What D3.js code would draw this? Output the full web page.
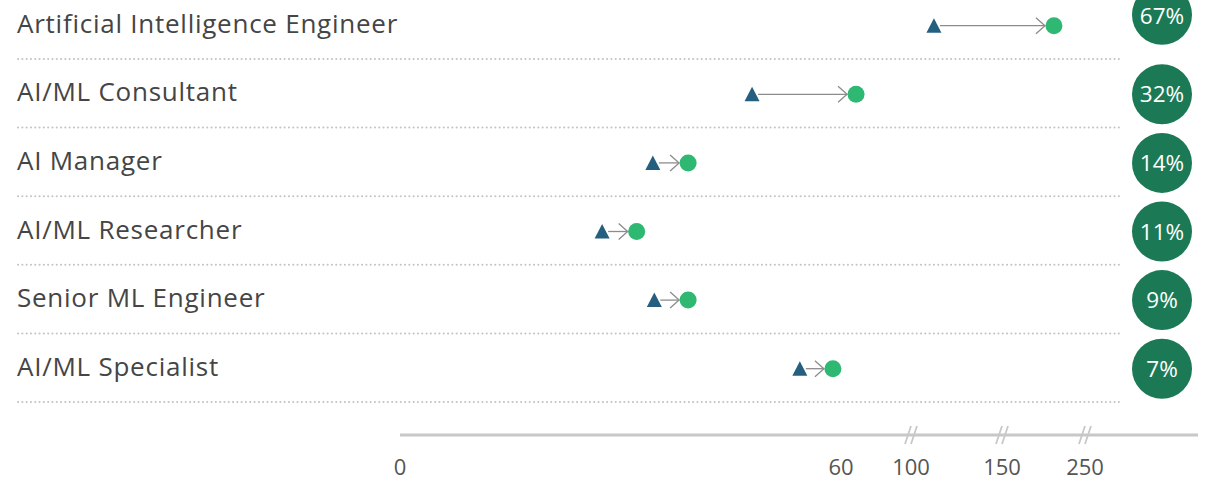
<!DOCTYPE html>
<html>
<head>
<meta charset="utf-8">
<script src="https://cdn.jsdelivr.net/npm/d3@7/dist/d3.min.js"></script>
<style>
  html, body { margin: 0; padding: 0; background: #fff; }
  svg { display: block; }
</style>
</head>
<body>
<svg id="chart" width="1207" height="481"></svg>
<script>
// ---- data ----
const roles = [
  "Artificial Intelligence Engineer",
  "AI/ML Consultant",
  "AI Manager",
  "AI/ML Researcher",
  "Senior ML Engineer",
  "AI/ML Specialist"
];
const startValues = [112.6, 47.9, 34.4, 27.5, 34.6, 54.4];   // triangles
const endValues   = [212.6, 68.6, 39.2, 32.2, 39.2, 58.9];   // circles
const growthLabels = ["67%", "32%", "14%", "11%", "9%", "7%"];
const tickValues = [0, 60, 100, 150, 250];
const breakValues = [100, 150, 250];

// ---- layout ----
const FONT = "'Open Sans', 'Noto Sans', sans-serif";
const svg = d3.select("#chart");

// broken (piecewise) x scale
const x = d3.scaleLinear()
  .domain(tickValues)
  .range([400, 841, 911, 1002, 1085]);

const y = d3.scaleBand()
  .domain(roles)
  .range([-9.6, 402])
  .paddingInner(0)
  .paddingOuter(0);

const rows = roles.map((r, i) => ({
  role: r, start: startValues[i], end: endValues[i], growth: growthLabels[i], i
}));

// separators
svg.append("g").selectAll("line")
  .data(rows).join("line")
  .attr("x1", 18).attr("x2", 1119)
  .attr("y1", d => y(d.role) + y.bandwidth())
  .attr("y2", d => y(d.role) + y.bandwidth())
  .attr("stroke", "#c4c4c4")
  .attr("stroke-width", 2)
  .attr("stroke-linecap", "round")
  .attr("stroke-dasharray", "0.1 4.2");

// row labels
svg.append("g").selectAll("text")
  .data(rows).join("text")
  .attr("x", 17)
  .attr("y", d => y(d.role) + y.bandwidth() / 2 + 8)
  .attr("font-family", FONT)
  .attr("font-size", 26)
  .attr("letter-spacing", 0.75)
  .attr("fill", "#454545")
  .text(d => d.role);

const cy = d => y(d.role) + y.bandwidth() / 2 + 1;

// arrows
const arrows = svg.append("g");
rows.forEach(d => {
  const x0 = x(d.start) + 6;
  const tip = x(d.end) - 9;
  const yy = cy(d);
  arrows.append("line")
    .attr("x1", x0).attr("x2", tip)
    .attr("y1", yy).attr("y2", yy)
    .attr("stroke", "#8c8c8c").attr("stroke-width", 1.3);
  arrows.append("path")
    .attr("d", `M${tip - 9},${yy - 8}L${tip},${yy}L${tip - 9},${yy + 8}`)
    .attr("fill", "none")
    .attr("stroke", "#8c8c8c").attr("stroke-width", 1.3);
});

// triangles
svg.append("g").selectAll("path")
  .data(rows).join("path")
  .attr("transform", d => `translate(${x(d.start)},${cy(d)})`)
  .attr("d", "M0,-7.5L7.5,7L-7.5,7Z")
  .attr("fill", "#245f80");

// circles
svg.append("g").selectAll("circle")
  .data(rows).join("circle")
  .attr("cx", d => x(d.end))
  .attr("cy", d => cy(d))
  .attr("r", 8.5)
  .attr("fill", "#2eb872");

// growth badges
const badges = svg.append("g").selectAll("g")
  .data(rows).join("g")
  .attr("transform", d => `translate(1162,${cy(d) - (d.i === 0 ? 11 : 0)})`);
badges.append("circle")
  .attr("r", 30)
  .attr("fill", "#1b7a55");
badges.append("text")
  .attr("text-anchor", "middle")
  .attr("dy", d => d.i === 0 ? 9.5 : 8)
  .attr("font-family", FONT)
  .attr("font-size", 22.5)
  .attr("fill", "#fff")
  .text(d => d.growth);

// axis
const axisY = 435;
svg.append("line")
  .attr("x1", 400).attr("x2", 1198)
  .attr("y1", axisY).attr("y2", axisY)
  .attr("stroke", "#c8c8c8").attr("stroke-width", 3);

// break marks
const brk = svg.append("g").selectAll("g")
  .data(breakValues).join("g")
  .attr("transform", d => `translate(${x(d)},${axisY})`);
[-3, 3].forEach(off => {
  brk.append("line")
    .attr("x1", off - 3).attr("y1", 9)
    .attr("x2", off + 3).attr("y2", -9)
    .attr("stroke", "#c8c8c8").attr("stroke-width", 1.8);
});

// tick labels
svg.append("g").selectAll("text")
  .data(tickValues).join("text")
  .attr("x", d => x(d))
  .attr("y", 475)
  .attr("text-anchor", "middle")
  .attr("font-family", FONT)
  .attr("font-size", 22)
  .attr("fill", "#555")
  .text(d => d);
</script>
</body>
</html>
